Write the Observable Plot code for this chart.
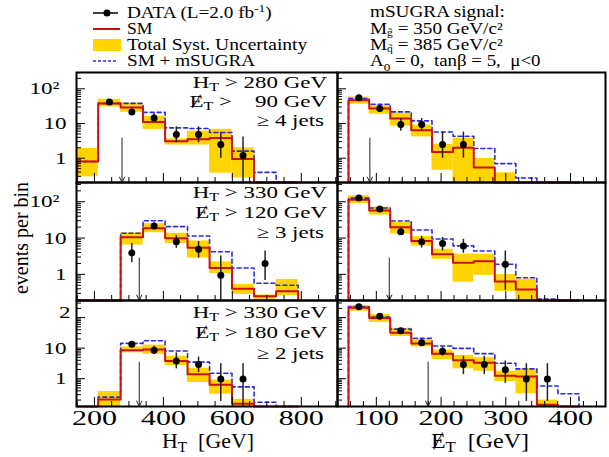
<!DOCTYPE html>
<html><head><meta charset="utf-8">
<script src="https://cdn.jsdelivr.net/npm/d3@7"></script>
<script src="https://cdn.jsdelivr.net/npm/@observablehq/plot@0.6"></script>
<style>
html,body{margin:0;padding:0;background:#fff;}
#chart{position:relative;width:609px;height:457px;overflow:hidden;background:#fff;}
#chart svg{position:absolute;overflow:visible;max-width:none;}
</style></head><body>
<div id="chart"></div>
<script>
// ---------- data ----------
const htEdges = [150, 211, 276, 341, 405, 470, 534, 599, 663, 727, 791];
const etEdges = [57, 89, 121.5, 154, 186, 218.5, 250.5, 283, 315.5, 348, 380.5, 413];
const htDomain = [148, 905];
const etDomain = [40, 454];
const htTicks = [200, 400, 600, 800];
const htMinor = [150, 250, 300, 350, 450, 500, 550, 650, 700, 750, 850, 900];
const etTicks = [100, 200, 300, 400];
const etMinor = [60, 80, 120, 140, 160, 180, 220, 240, 260, 280, 320, 340, 360, 380, 420, 440];
const rowLogRange = [[-0.70, 2.47], [-0.72, 2.53], [-0.91, 2.56]];
const yLabelValues = [1, 10, 100];
const yLabelText = [["1", "10", "10²"], ["1", "10", "10²"], ["1", "10", "2"]];
const htCuts = [280, 330, 330];
const etCuts = [90, 120, 180];
const jetCuts = [4, 3, 2];
const arrowTops = [3.8, 2.85, 3.5];

// Row 1 (HT>280, MET>90, >=4 jets)
const r1HtSM   = [0.8, 38, 29, 11, 3.1, 3.5, 3.8, 0.95, 0, 0];
const r1HtLo   = [0.29, 30, 21, 6.8, 2.4, 2.4, 0.37, 0.27, null, null];
const r1HtHi   = [1.9, 50, 39, 16, 3.6, 6.0, 6.8, 2.0, null, null];
const r1HtSig  = [0.8, 38, 38, 21, 7.5, 7.2, 5.5, 1.6, 0.39, 0];
const r1HtData = [null, 42, 21.6, 14.5, 4.8, 4.8, 2.5, 1.2, null, null];
const r1HtErrLo = [null, 36, 18, 11, 2.8, 2.8, 1.0, 0.1, null, null];
const r1HtErrHi = [null, 49, 26, 19, 8, 8, 5.4, 4.1, null, null];

const r1EtSM   = [47, 27, 13.9, 6.4, 1.5, 2.0, 0.54, 0, 0, 0, 0];
const r1EtLo   = [36, 18.5, 8.4, 4.1, 0.45, 0.1, 0.1, 0.1, null, null, null];
const r1EtHi   = [58, 34, 20, 9.0, 2.5, 3.8, 0.98, 0.38, null, null, null];
const r1EtSig  = [52, 36, 21.6, 11.9, 5.7, 4.3, 1.9, 0.7, 0.27, 0, 0];
const r1EtData = [55, 27, 9.4, 9.4, 2.5, 2.5, null, null, null, null, null];
const r1EtErrLo = [50, 22, 6.0, 6.0, 1.0, 1.0, null, null, null, null, null];
const r1EtErrHi = [61, 33, 13.9, 13.9, 5.7, 5.7, null, null, null, null, null];

// Row 2 (HT>330, MET>120, >=3 jets)
const r2HtSM   = [0, 0, 10.5, 18.6, 9.8, 5.4, 1.5, 0.4, 0.25, 0.34];
const r2HtLo   = [null, null, 6.4, 14, 7.1, 2.8, 1.05, 0.28, 0.1, 0.26];
const r2HtHi   = [null, null, 14, 25, 13.5, 8.3, 2.2, 0.53, 0.27, 0.72];
const r2HtSig  = [0, 0, 13.5, 30, 20.6, 11.4, 4.2, 1.5, 0.57, 0.5];
const r2HtData = [null, null, 3.9, 21.5, 7.9, 4.9, 0.95, null, 2.0, null];
const r2HtErrLo = [null, null, 2.1, 18, 5.2, 2.8, 0.1, null, 0.68, null];
const r2HtErrHi = [null, null, 7.1, 26, 11.6, 8.0, 3.2, null, 4.4, null];

const r2EtSM   = [114, 57, 19.8, 8.3, 3.6, 2.1, 2.3, 0.64, 0.38, 0, 0];
const r2EtLo   = [88, 43, 12.9, 6.0, 2.6, 0.61, 0.94, 0.34, 0.1, null, null];
const r2EtHi   = [147, 71, 26.6, 10.9, 4.9, 3.6, 3.6, 0.98, 0.74, null, null];
const r2EtSig  = [126, 67, 29.6, 16.7, 9.4, 6.1, 4.4, 1.9, 0.81, 0.21, 0];
const r2EtData = [126, 63, 15, 7.9, 7.1, 6.0, null, 1.9, null, null, null];
const r2EtErrLo = [115, 56, 12, 5.3, 4.4, 3.8, null, 0.36, null, null, null];
const r2EtErrHi = [138, 71, 19, 11.2, 10.4, 9.2, null, 4.4, null, null, null];

// Row 3 (HT>330, MET>180, >=2 jets)
const r3HtSM   = [0, 0.21, 8.6, 9.0, 3.8, 1.4, 0.63, 0.15, 0, 0];
const r3HtLo   = [null, 0.1, 7.0, 6.3, 2.7, 0.75, 0.31, 0.12, null, null];
const r3HtHi   = [null, 0.38, 11, 12.6, 5.4, 2.2, 0.9, 0.21, null, null];
const r3HtSig  = [0, 0.25, 14.3, 17.5, 8.1, 3.5, 1.5, 0.54, 0.17, 0.12];
const r3HtData = [null, null, 13.3, 8.6, 3.8, 2.9, 0.98, 0.98, null, null];
const r3HtErrLo = [null, null, 11, 6.3, 2.1, 1.6, 0.18, 0.1, null, null];
const r3HtErrHi = [null, null, 16, 11.5, 7.0, 5.1, 3.1, 3.1, null, null];

const r3EtSM   = [210, 98, 32, 14.3, 6.6, 4.0, 3.3, 1.26, 1.17, 0.14, 0];
const r3EtLo   = [162, 70, 24, 11, 4.2, 2.1, 1.75, 0.81, 0.32, 0.1, null];
const r3EtHi   = [250, 125, 45, 19.5, 8.6, 5.8, 4.9, 1.75, 2.1, 0.2, null];
const r3EtSig  = [225, 105, 42, 21, 11.7, 9.8, 6.6, 3.2, 2.1, 0.58, 0.32];
const r3EtData = [225, 110, 37, 15, 7.9, 2.9, 2.9, 1.95, 0.98, 0.98, null];
const r3EtErrLo = [205, 98, 31, 11.5, 5.5, 1.36, 1.36, 0.7, 0.18, 0.18, null];
const r3EtErrHi = [245, 122, 43, 19.5, 11, 5.4, 5.4, 3.8, 3.1, 3.1, null];

// ---------- layout / style ----------
const FONT = "Liberation Serif, Times New Roman, serif";
const RED = "#cc1010", YELLOW = "#ffd400", BLUE = "#2d2de0";
const rowTop = [72, 182, 300], rowBot = [182, 300, 406];
const colLeft = [76, 337], colRight = [337, 605];
const chart = document.getElementById("chart");
const logMinor = [2, 3, 4, 5, 6, 7, 8, 9].flatMap(m => [0.1, 1, 10, 100].map(d => m * d));

const panels = [
  [0, 0, r1HtSM, r1HtLo, r1HtHi, r1HtSig, r1HtData, r1HtErrLo, r1HtErrHi],
  [0, 1, r1EtSM, r1EtLo, r1EtHi, r1EtSig, r1EtData, r1EtErrLo, r1EtErrHi],
  [1, 0, r2HtSM, r2HtLo, r2HtHi, r2HtSig, r2HtData, r2HtErrLo, r2HtErrHi],
  [1, 1, r2EtSM, r2EtLo, r2EtHi, r2EtSig, r2EtData, r2EtErrLo, r2EtErrHi],
  [2, 0, r3HtSM, r3HtLo, r3HtHi, r3HtSig, r3HtData, r3HtErrLo, r3HtErrHi],
  [2, 1, r3EtSM, r3EtLo, r3EtHi, r3EtSig, r3EtData, r3EtErrLo, r3EtErrHi]
];

for (const [row, col, sm, lo, hi, sig, dat, eLo, eHi] of panels) {
  const edges = col ? etEdges : htEdges;
  const xDomain = col ? etDomain : htDomain;
  const yDomain = rowLogRange[row].map(v => 10 ** v);
  const ymin = yDomain[0];
  const cl = v => (v == null || v < ymin) ? ymin : v;
  const bins = sm.map((v, i) => ({
    x1: edges[i], x2: edges[i + 1], xc: (edges[i] + edges[i + 1]) / 2,
    sm: v, lo: lo[i], hi: hi[i], sig: sig[i], d: dat[i], el: eLo[i], eh: eHi[i]
  }));
  const step = key => {
    const pts = [{x: edges[0], y: ymin}];
    for (const b of bins) { pts.push({x: b.x1, y: cl(b[key])}); pts.push({x: b.x2, y: cl(b[key])}); }
    pts.push({x: edges[bins.length], y: ymin});
    return pts;
  };
  const pts = bins.filter(b => b.d != null);
  const fw = colRight[col] - colLeft[col], fh = rowBot[row] - rowTop[row];
  const mL = col === 0 ? 76 : 4, mR = 6, mT = 4, mB = row === 2 ? 50 : 4;
  const yMajor = yLabelValues.filter(v => v > yDomain[0] && v < yDomain[1]);
  const yMinor = logMinor.filter(v => v > yDomain[0] && v < yDomain[1]);
  const xMajor = col ? etTicks : htTicks;
  const xMinor = col ? etMinor : htMinor;
  const cut = col ? etCuts[row] : htCuts[row];
  const marks = [
    Plot.rect(bins.filter(b => b.lo != null && b.hi != null), {x1: "x1", x2: "x2", y1: b => cl(b.lo), y2: b => cl(b.hi), fill: YELLOW}),
    Plot.line(step("sig"), {x: "x", y: "y", stroke: BLUE, strokeWidth: 1.6, strokeDasharray: "4,3"}),
    Plot.line(step("sm"), {x: "x", y: "y", stroke: RED, strokeWidth: 2}),
    Plot.ruleX(pts, {x: "xc", y1: b => cl(b.el), y2: b => cl(b.eh), stroke: "#222", strokeWidth: 1.5}),
    Plot.dot(pts, {x: "xc", y: "d", r: 3.5, fill: "black", stroke: "none"}),
    Plot.arrow([{x: cut, y1: arrowTops[row], y2: ymin}], {x1: "x", x2: "x", y1: "y1", y2: "y2", stroke: "#222", strokeWidth: 1, headLength: 9, headAngle: 50}),
    Plot.ruleY(yMajor, {insetRight: fw - 9, stroke: "black", strokeWidth: 1}),
    Plot.ruleY(yMinor, {insetRight: fw - 5, stroke: "black", strokeWidth: 1}),
    Plot.ruleX(xMajor, {insetTop: fh - 9, stroke: "black", strokeWidth: 1}),
    Plot.ruleX(xMinor, {insetTop: fh - 5, stroke: "black", strokeWidth: 1}),
    Plot.frame({stroke: "black", strokeWidth: 2})
  ];
  if (col === 0) {
    const yl = yLabelValues.map((v, i) => ({v, t: yLabelText[row][i]}));
    marks.push(Plot.text(yl.filter(d => d.v !== 100), {y: "v", text: "t", frameAnchor: "left", textAnchor: "end", dx: -10, fontSize: 17, fontFamily: FONT, fill: "black"}));
    marks.push(Plot.text(yl.filter(d => d.v === 100), {y: "v", text: "t", frameAnchor: "left", textAnchor: "end", dx: row === 2 ? -6 : -17, dy: row === 2 ? -5 : 0, fontSize: 17, fontFamily: FONT, fill: "black"}));
  }
  if (row === 2) {
    marks.push(Plot.text(xMajor, {x: d => d, text: d => String(d), frameAnchor: "bottom", lineAnchor: "bottom", dy: 18, fontSize: 20, fontFamily: FONT, fill: "black"}));
  }
  const svg = Plot.plot({
    width: fw + mL + mR, height: fh + mT + mB,
    marginLeft: mL, marginRight: mR, marginTop: mT, marginBottom: mB,
    x: {domain: xDomain, axis: null},
    y: {type: "log", domain: yDomain, axis: null},
    style: {background: "transparent", overflow: "visible"},
    marks
  });
  svg.style.position = "absolute";
  svg.style.left = (colLeft[col] - mL) + "px";
  svg.style.top = (rowTop[row] - mT) + "px";
  chart.appendChild(svg);
  svg.querySelectorAll("text").forEach(t => {
    const w = t.getComputedTextLength();
    const fs = parseFloat(t.closest("[font-size]")?.getAttribute("font-size") || "17");
    const k = fs >= 20 ? 1.5 : 1.36;
    if (w > 0) { t.setAttribute("textLength", w * k); t.setAttribute("lengthAdjust", "spacingAndGlyphs"); }
  });
}

// ---------- overlay: legend, titles, annotations ----------
const ov = d3.select(chart).append("svg")
  .attr("width", 609).attr("height", 457)
  .style("left", "0px").style("top", "0px")
  .attr("font-family", FONT);

function addText(x, y, parts, {size = 16, anchor = "start", stretch = 1, length = null, rotate = 0, sub = 0.3, subSize = 0.7} = {}) {
  const t = ov.append("text").attr("x", x).attr("y", y).attr("font-size", size)
    .attr("text-anchor", anchor).attr("fill", "black").style("white-space", "pre");
  if (rotate) t.attr("transform", `rotate(${rotate},${x},${y})`);
  let shift = 0;
  for (const p of parts) {
    const [s, k] = Array.isArray(p) ? p : [p, ""];
    const ts = t.append("tspan").text(s);
    const target = k === "sub" ? sub * size : k === "sup" ? -0.4 * size : 0;
    if (target !== shift) { ts.attr("dy", target - shift); shift = target; }
    if (k) ts.attr("font-size", size * subSize);
  }
  const w = t.node().getComputedTextLength();
  const L = length != null ? length : w * stretch;
  if (Math.abs(L - w) > 0.5) t.attr("textLength", L).attr("lengthAdjust", "spacingAndGlyphs");
  return t;
}

// legend symbols
ov.append("line").attr("x1", 93).attr("x2", 118).attr("y1", 13).attr("y2", 13).attr("stroke", "black").attr("stroke-width", 1.5);
ov.append("circle").attr("cx", 107).attr("cy", 13).attr("r", 3.5).attr("fill", "black");
ov.append("line").attr("x1", 93).attr("x2", 120).attr("y1", 29).attr("y2", 29).attr("stroke", RED).attr("stroke-width", 2);
ov.append("rect").attr("x", 93).attr("y", 39).attr("width", 28).attr("height", 12).attr("fill", YELLOW);
ov.append("line").attr("x1", 93).attr("x2", 118).attr("y1", 61).attr("y2", 61).attr("stroke", BLUE).attr("stroke-width", 1.6).attr("stroke-dasharray", "3,2");

addText(127, 18, ["DATA (L=2.0 fb", ["-1", "sup"], ")"], {stretch: 1.2});
addText(127, 34, ["SM"], {stretch: 1.1});
addText(127, 50, ["Total Syst. Uncertainty"], {stretch: 1.22});
addText(127, 66, ["SM + mSUGRA"], {stretch: 1.2});

addText(370, 17, ["mSUGRA signal:"], {stretch: 1.2});
addText(370, 34, ["M", ["g\u0303", "sub"], " = 350 GeV/c²"], {stretch: 1.2, sub: 0.12, subSize: 0.6});
addText(370, 50, ["M", ["q\u0303", "sub"], " = 385 GeV/c²"], {stretch: 1.2, sub: 0.12, subSize: 0.6});
addText(370, 66, ["A", ["0", "sub"], " = 0,  tanβ = 5,  μ<0"], {stretch: 1.18});

// panel annotations
const annoBase = [[88, 107, 126], [198, 218, 238], [318, 338, 359]];
for (let r = 0; r < 3; r++) {
  const e = etCuts[r];
  addText(327, annoBase[r][0], ["H", ["T", "sub"], ` > ${htCuts[r]} GeV`], {size: 17, anchor: "end", stretch: 1.35, sub: 0.2});
  addText(327, annoBase[r][1], ["Ɇ", ["T", "sub"], ` > ${e < 100 ? "\u2007 " : ""}${e} GeV`], {size: 17, anchor: "end", stretch: 1.35, sub: 0.2});
  addText(324, annoBase[r][2], [`≥ ${jetCuts[r]} jets`], {size: 17, anchor: "end", stretch: 1.35});
}

// axis titles
addText(28, 238, ["events per bin"], {size: 20, anchor: "middle", rotate: -90});
addText(208, 448, ["H", ["T", "sub"], "  [GeV]"], {size: 20, anchor: "middle", length: 92, sub: 0.2});
addText(480, 448, ["Ɇ", ["T", "sub"], "  [GeV]"], {size: 20, anchor: "middle", length: 98, sub: 0.2});
</script>
</body></html>
